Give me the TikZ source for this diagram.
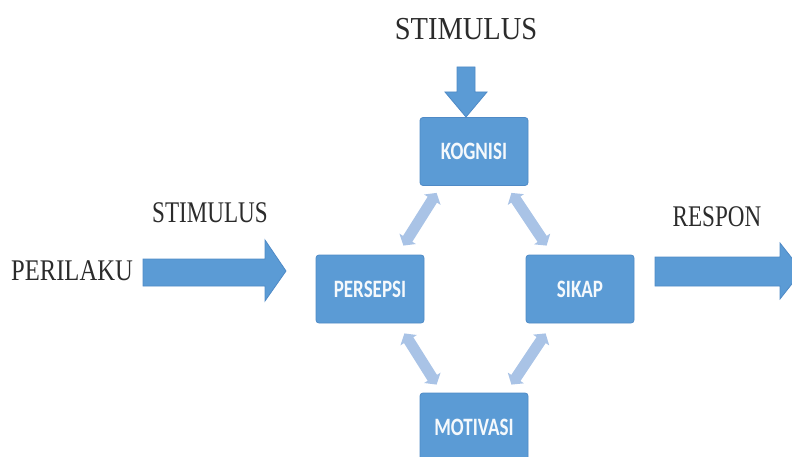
\documentclass[tikz,border=0pt]{standalone}
\usepackage{fontspec}
\setmainfont{Liberation Serif}
\newfontfamily\boxfont{Carlito}
\usetikzlibrary{arrows.meta,calc}
\definecolor{boxblue}{HTML}{5B9BD5}
\definecolor{boxedge}{HTML}{4F8AC6}
\definecolor{lightblue}{HTML}{A9C3E6}
\definecolor{txt}{HTML}{2B2B2B}
\newcommand{\sqz}[2]{\scalebox{#1}[1]{#2}}
\begin{document}
\begin{tikzpicture}[x=1pt,y=-1pt,
  blbox/.style={rounded corners=3pt,fill=boxblue,draw=boxedge,line width=0.8pt,
    minimum width=108pt,minimum height=68pt,inner sep=0pt,text=white!94!boxblue,
    font=\boxfont\bfseries\fontsize{25}{29}\selectfont},
  lbl/.style={inner sep=0pt,text=txt,font=\fontsize{30}{34}\selectfont},
  bigarrow/.style={fill=boxblue,draw=boxedge,line width=0.8pt},
  link/.style={draw=lightblue,line width=11pt,
    {Triangle[width=19pt,length=8pt]}-{Triangle[width=19pt,length=8pt]}}]
\path[use as bounding box] (0,0) rectangle (792,457);
\clip (0,0) rectangle (792,457);
% labels
\node[lbl] (stimtop) at (466,29) {\sqz{0.89}{\fontsize{32}{36}\selectfont STIMULUS}};
\node[lbl] (stimleft) at (210,213) {\sqz{0.77}{STIMULUS}};
\node[lbl] (perilaku) at (72,271) {\sqz{0.82}{PERILAKU}};
\node[lbl] (respon) at (717,217) {\sqz{0.77}{RESPON}};
% boxes
\node[blbox] (kog) at (474,151.5) {\sqz{0.76}{KOGNISI}};
\node[blbox] (pers) at (370,289) {\sqz{0.76}{PERSEPSI}};
\node[blbox] (sikap) at (580,289) {\sqz{0.76}{SIKAP}};
\node[blbox] (mot) at (474,427) {\sqz{0.76}{MOTIVASI}};
% big arrows
\path[bigarrow] (143,259) -- (265,259) -- (265,240) -- (286,271) -- (265,301) -- (265,286) -- (143,286) -- cycle;
\path[bigarrow] (655,257) -- (780,257) -- (780,243) -- (802,271) -- (780,299) -- (780,286) -- (655,286) -- cycle;
\path[bigarrow] (457,67) -- (475,67) -- (475,92) -- (487,92) -- (466,117) -- (445,92) -- (457,92) -- cycle;
% light double arrows
\draw[link] ($(kog.south west)+(17,7)$) -- ($(pers.north east)+(-21,-9)$);
\draw[link] ($(kog.south east)+(-17,7)$) -- ($(sikap.north west)+(21,-9)$);
\draw[link] ($(pers.south east)+(-20,10)$) -- ($(mot.north west)+(17,-8)$);
\draw[link] ($(sikap.south west)+(20,10)$) -- ($(mot.north east)+(-17,-8)$);
\end{tikzpicture}
\end{document}
